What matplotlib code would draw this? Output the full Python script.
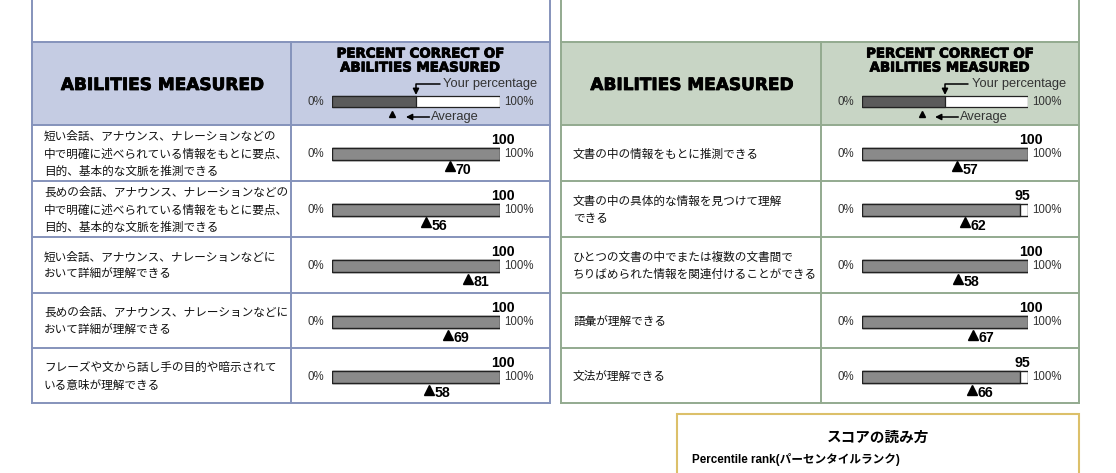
import matplotlib.pyplot as plt
import matplotlib.patheffects as pe
from matplotlib.patches import Rectangle

JP = ['Noto Sans CJK JP', 'DejaVu Sans']
EN = ['Liberation Sans', 'DejaVu Sans']

# Data
left_items = [
    "短い会話、アナウンス、ナレーションなどの\n中で明確に述べられている情報をもとに要点、\n目的、基本的な文脈を推測できる",
    "長めの会話、アナウンス、ナレーションなどの\n中で明確に述べられている情報をもとに要点、\n目的、基本的な文脈を推測できる",
    "短い会話、アナウンス、ナレーションなどに\nおいて詳細が理解できる",
    "長めの会話、アナウンス、ナレーションなどに\nおいて詳細が理解できる",
    "フレーズや文から話し手の目的や暗示されて\nいる意味が理解できる",
]
left_yours = [100, 100, 100, 100, 100]
left_avg = [70, 56, 81, 69, 58]

right_items = [
    "文書の中の情報をもとに推測できる",
    "文書の中の具体的な情報を見つけて理解\nできる",
    "ひとつの文書の中でまたは複数の文書間で\nちりばめられた情報を関連付けることができる",
    "語彙が理解できる",
    "文法が理解できる",
]
right_yours = [100, 95, 100, 100, 95]
right_avg = [57, 62, 58, 67, 66]

legend_yours = 50
legend_avg = 36

header_title = "ABILITIES MEASURED"
header_pct = ["PERCENT CORRECT OF", "ABILITIES MEASURED"]

# Layout (pixels)
W, H = 1116, 473
head_top, head_bot = 42, 125
row_edges = [125, 181, 237, 293, 348, 403]

panels = [
    dict(x0=32, x1=550, xd=291, b0=332, b1=500, fill='#c5cce3', edge='#8593bb',
         items=left_items, yours=left_yours, avg=left_avg),
    dict(x0=561, x1=1079, xd=821, b0=862, b1=1028, fill='#c8d5c5', edge='#93aa8f',
         items=right_items, yours=right_yours, avg=right_avg),
]

fig = plt.figure(figsize=(W / 100, H / 100), dpi=100)
ax = fig.add_axes([0, 0, 1, 1])
ax.set_xlim(0, W)
ax.set_ylim(H, 0)
ax.axis('off')

heavy = [pe.withStroke(linewidth=0.6, foreground='black')]


def inset(x0, x1, y0, y1):
    a = fig.add_axes([x0 / W, 1 - y1 / H, (x1 - x0) / W, (y1 - y0) / H])
    a.set_xlim(0, 100)
    a.set_ylim(y1 - y0, 0)
    a.axis('off')
    return a


for p in panels:
    x0, x1, xd, b0, b1 = p['x0'], p['x1'], p['xd'], p['b0'], p['b1']
    ax.add_patch(Rectangle((x0, head_top), x1 - x0, head_bot - head_top,
                           facecolor=p['fill'], edgecolor='none'))
    lw = 1.4
    ax.plot([x0, x0], [-5, row_edges[-1]], color=p['edge'], lw=lw)
    ax.plot([x1, x1], [-5, row_edges[-1]], color=p['edge'], lw=lw)
    ax.plot([xd, xd], [head_top, row_edges[-1]], color=p['edge'], lw=lw)
    for y in [head_top] + row_edges:
        ax.plot([x0, x1], [y, y], color=p['edge'], lw=lw)

    # header
    ax.text((x0 + xd) / 2, 85, header_title, ha='center', va='center',
            fontsize=12.2, fontweight='heavy', family=['DejaVu Sans'],
            path_effects=heavy)
    for line, ly in zip(header_pct, [54, 68]):
        ax.text((xd + x1) / 2, ly, line, ha='center', va='center',
                fontsize=9.6, fontweight='heavy', family=['DejaVu Sans'],
                path_effects=heavy)
    ax.text(b0 - 16, 102, "0%", ha='center', va='center', fontsize=8.3,
            family=EN, color='#333333')
    ax.text(b1 + 19, 102, "100%", ha='center', va='center', fontsize=8.3,
            family=EN, color='#333333')

    la = inset(b0, b1, head_top, head_bot)
    la.barh(60, 100, height=11, color='white', edgecolor='#222222', lw=0.9)
    la.barh(60, legend_yours, height=11, color='#5b5b5b', edgecolor='#222222', lw=0.9)
    la.plot(legend_avg, 72, marker='^', ms=5, color='black', clip_on=False)
    la.annotate('', xy=(legend_yours, 53), xytext=(64, 42),
                arrowprops=dict(arrowstyle='-|>', color='black', lw=1.1,
                                connectionstyle='angle,angleA=0,angleB=90,rad=0',
                                shrinkA=0, shrinkB=0, mutation_scale=9))
    la.annotate('', xy=(44, 75), xytext=(58, 75),
                arrowprops=dict(arrowstyle='-|>', color='black', lw=1.1,
                                shrinkA=0, shrinkB=0, mutation_scale=9))
    la.text(66, 42, "Your percentage", ha='left', va='center', fontsize=9.3,
            family=EN, color='#333333')
    la.text(59, 75, "Average", ha='left', va='center', fontsize=9.3,
            family=EN, color='#333333')

    # rows
    for i, (txt, yv, av) in enumerate(zip(p['items'], p['yours'], p['avg'])):
        r0, r1 = row_edges[i], row_edges[i + 1]
        ax.text(x0 + 12, (r0 + r1) / 2 + 1, txt, ha='left', va='center',
                fontsize=8.4, family=JP, linespacing=1.45, color='#111111')
        ax.text(b0 - 16, r0 + 29, "0%", ha='center', va='center', fontsize=8.3,
                family=EN, color='#333333')
        ax.text(b1 + 19, r0 + 29, "100%", ha='center', va='center', fontsize=8.3,
                family=EN, color='#333333')
        ra = inset(b0, b1, r0, r1)
        ra.barh(29, 100, height=12, color='white', edgecolor='#222222', lw=1)
        ra.barh(29, yv, height=12, color='#8a8a8a', edgecolor='#222222', lw=1)
        ra.plot(av, 41.5, marker='^', ms=6.5, color='black', clip_on=False)
        ra.text(av + 3.3, 45, str(av), ha='left', va='center', fontsize=10.2,
                fontweight='bold', family=EN)
        ra.text(yv + 1.5, 15, str(yv), ha='center', va='center', fontsize=10.2,
                fontweight='bold', family=EN)

# score guide box
ax.add_patch(Rectangle((677, 414), 402, 80, facecolor='white',
                       edgecolor='#dcc06a', lw=1.5))
ax.text(878, 437, "スコアの読み方", ha='center', va='center', fontsize=10.5,
        fontweight='bold', family=JP)
ax.text(692, 459, "Percentile rank(パーセンタイルランク)", ha='left', va='center',
        fontsize=8.4, fontweight='bold', family=EN + JP)

fig.savefig('out.png', dpi=100)
